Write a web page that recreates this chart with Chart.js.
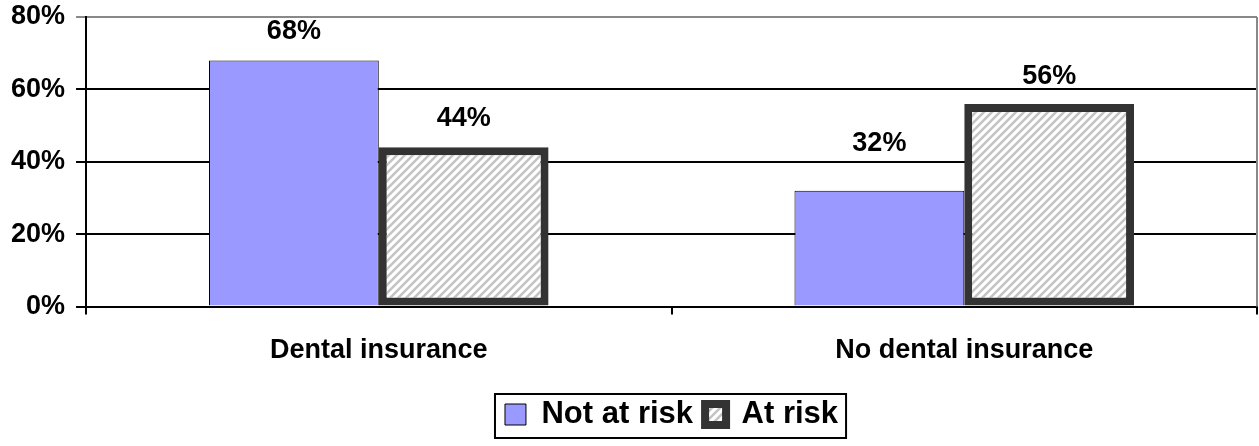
<!DOCTYPE html>
<html>
<head>
<meta charset="utf-8">
<script src="https://cdn.jsdelivr.net/npm/chart.js@4"></script>
<style>
  html, body { margin: 0; padding: 0; background: #fff; }
  #wrap { width: 1259px; height: 446px; }
</style>
</head>
<body>
<div id="wrap"><canvas id="chart"></canvas></div>
<script>
// data
const categories = ['Dental insurance', 'No dental insurance'];
const notAtRisk = [68, 32];
const atRisk = [44, 56];
const yTicks = [0, 20, 40, 60, 80];

// hatch pattern for "At risk"
function makeHatch() {
    const s = 8;
    const c = document.createElement('canvas');
    c.width = s; c.height = s;
    const g = c.getContext('2d');
    g.fillStyle = '#ffffff';
    g.fillRect(0, 0, s, s);
    g.strokeStyle = '#c4c4c4';
    g.lineWidth = 2.5;
    g.beginPath();
    g.moveTo(-s / 2, s / 2); g.lineTo(s / 2, -s / 2);
    g.moveTo(0, s); g.lineTo(s, 0);
    g.moveTo(s / 2, s * 1.5); g.lineTo(s * 1.5, s / 2);
    g.stroke();
    return g.createPattern(c, 'repeat');
}

const font = 'Liberation Sans, Arial, sans-serif';
Chart.defaults.font.family = font;
Chart.defaults.color = '#000';

// value labels above bars (the 32% label sits higher in the original)
const valueLabels = {
    id: 'valueLabels',
    afterDatasetsDraw(chart, args, opts) {
        const ctx = chart.ctx;
        ctx.save();
        ctx.font = 'bold 27px ' + font;
        ctx.fillStyle = '#000';
        ctx.textAlign = 'center';
        ctx.textBaseline = 'middle';
        chart.data.datasets.forEach((ds, i) => {
            chart.getDatasetMeta(i).data.forEach((bar, j) => {
                const off = (opts.offsets && opts.offsets[i]) ? opts.offsets[i][j] : 29;
                ctx.fillText(ds.data[j] + '%', bar.x, bar.y - off);
            });
        });
        ctx.restore();
    }
};

// right border of plot area and box round the legend
const frame = {
    id: 'frame',
    afterDraw(chart) {
        const ctx = chart.ctx;
        const a = chart.chartArea;
        ctx.save();
        ctx.strokeStyle = '#888';
        ctx.lineWidth = 2;
        ctx.beginPath();
        ctx.moveTo(a.right, a.top);
        ctx.lineTo(a.right, a.bottom);
        ctx.stroke();
        const hb = chart.legend.legendHitBoxes;
        if (hb && hb.length) {
            const l = hb[0].left - 10;
            const r = hb[hb.length - 1].left + hb[hb.length - 1].width + 8;
            const t = hb[0].top - 5;
            const b = hb[0].top + hb[0].height + 8;
            ctx.strokeStyle = '#000';
            ctx.lineWidth = 2;
            ctx.strokeRect(l, t, r - l, b - t);
        }
        ctx.restore();
    }
};

new Chart(document.getElementById('chart'), {
    type: 'bar',
    data: {
        labels: categories,
        datasets: [{
            label: 'Not at risk',
            data: notAtRisk,
            backgroundColor: '#9999ff',
            borderColor: '#000',
            borderWidth: 1
        }, {
            label: 'At risk',
            data: atRisk,
            backgroundColor: makeHatch(),
            borderColor: '#333333',
            borderWidth: 8,
            borderSkipped: false
        }]
    },
    options: {
        responsive: true,
        maintainAspectRatio: false,
        animation: false,
        layout: { padding: { top: 0, right: 2, left: 0, bottom: 6 } },
        datasets: { bar: { categoryPercentage: 0.58, barPercentage: 1 } },
        plugins: {
            tooltip: { enabled: false },
            valueLabels: { offsets: [[29, 47], [29, 27]] },
            legend: {
                position: 'bottom',
                fullSize: false,
                labels: {
                    font: { size: 31, weight: 'bold' },
                    boxWidth: 21,
                    boxHeight: 21,
                    padding: 12,
                    color: '#000'
                }
            }
        },
        scales: {
            x: {
                offset: true,
                grid: { offset: true, drawOnChartArea: false, tickLength: 8, color: '#000', lineWidth: 2 },
                border: { color: '#000', width: 2 },
                ticks: { font: { size: 27, weight: 'bold' }, padding: 20, color: '#000' }
            },
            y: {
                min: 0,
                max: 80,
                afterBuildTicks(axis) {
                    axis.ticks = yTicks.map(v => ({ value: v }));
                },
                afterFit(axis) {
                    axis.paddingTop = 17;
                },
                grid: {
                    color: c => (c.tick && c.tick.value === 80 ? '#888' : '#000'),
                    lineWidth: 2,
                    tickLength: 10
                },
                border: { color: '#000', width: 2 },
                ticks: {
                    font: { size: 27, weight: 'bold', lineHeight: 1 },
                    padding: 11,
                    color: '#000',
                    callback: v => v + '%'
                }
            }
        }
    },
    plugins: [valueLabels, frame]
});
</script>
</body>
</html>
